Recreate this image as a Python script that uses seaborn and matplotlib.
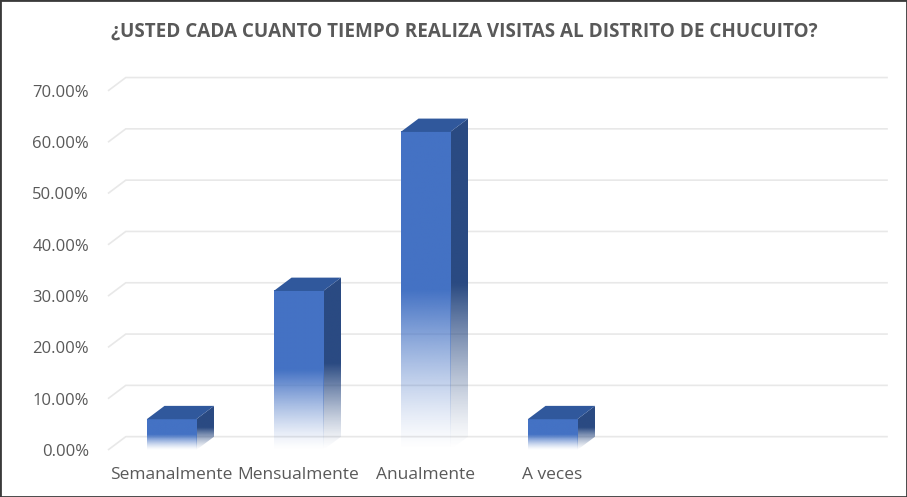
import numpy as np
import pandas as pd
import matplotlib.pyplot as plt
import seaborn as sns
from matplotlib.patches import Polygon, Rectangle
from matplotlib.colors import to_rgb

# --- datos ---
categorias = ["Semanalmente", "Mensualmente", "Anualmente", "A veces"]
porcentajes = [6.0, 31.0, 62.0, 6.0]
ticks_y = [0, 10, 20, 30, 40, 50, 60, 70]
titulo = "¿USTED CADA CUANTO TIEMPO REALIZA VISITAS AL DISTRITO DE CHUCUITO?"

df = pd.DataFrame({"frecuencia": categorias, "porcentaje": porcentajes})

sns.set_style("white")
plt.rcParams['font.family'] = ['Open Sans', 'DejaVu Sans']

GRIS = "#595959"
AZUL = "#4472C4"
AZUL_TOP = "#30589C"
AZUL_LADO = "#2A4A82"
DX, DY = 0.14, 2.6  # profundidad del efecto 3D

fig = plt.figure(figsize=(9.07, 4.97), dpi=100)
ax = fig.add_axes([100 / 907, 1 - 460 / 497, 790 / 907, 390 / 497])

sns.barplot(data=df, x="frecuencia", y="porcentaje", width=0.39,
            color=AZUL, ax=ax, zorder=3)

# lineas de la pared del fondo (con el pliegue del piso)
for v in ticks_y:
    ax.plot([-0.5, -0.5 + DX, 5.5 + DX], [v, v + DY, v + DY],
            color="#e8e8e8", lw=1.2, zorder=1, solid_capstyle="butt")


def degradado(rgb, n=256, corte=0.5, gamma=1.3):
    frac = np.linspace(0, 1, n)
    alpha = np.clip(frac / corte, 0, 1) ** gamma
    img = np.zeros((n, 1, 4))
    img[..., :3] = rgb
    img[..., 3] = alpha[:, None]
    return img


# caras frontal, lateral y superior de cada barra
for p in list(ax.patches):
    x0, w, h = p.get_x(), p.get_width(), p.get_height()
    p.set_facecolor("none")
    p.set_edgecolor("none")

    ax.imshow(degradado(to_rgb(AZUL)), extent=[x0, x0 + w, 0, h],
              origin="lower", aspect="auto", zorder=4, interpolation="bilinear")

    lado = Polygon([(x0 + w, 0), (x0 + w, h), (x0 + w + DX, h + DY), (x0 + w + DX, DY)],
                   closed=True, facecolor="none", edgecolor="none")
    ax.add_patch(lado)
    im = ax.imshow(degradado(to_rgb(AZUL_LADO)), extent=[x0 + w, x0 + w + DX, 0, h + DY],
                   origin="lower", aspect="auto", zorder=3, interpolation="bilinear")
    im.set_clip_path(lado)

    ax.add_patch(Polygon([(x0, h), (x0 + w, h), (x0 + w + DX, h + DY), (x0 + DX, h + DY)],
                         closed=True, facecolor=AZUL_TOP, edgecolor="none", zorder=4))

ax.set_xlim(-0.563, 5.657)
ax.set_ylim(-1.95, 74.07)
ax.set_yticks(ticks_y)
ax.set_yticklabels([f"{v:.2f}%" for v in ticks_y])
ax.set_xlabel("")
ax.set_ylabel("")
sns.despine(ax=ax, left=True, bottom=True)
ax.tick_params(axis="both", length=0, labelsize=12, colors=GRIS)
ax.tick_params(axis="x", labelsize=12.5, pad=5)
ax.tick_params(axis="y", pad=8)

fig.text(464 / 907, 1 - 32 / 497, titulo, ha="center", va="center",
         fontsize=13.6, weight="bold", color=GRIS)

fig.patches.append(Rectangle((0, 0), 1, 1, transform=fig.transFigure, fill=False,
                             edgecolor="#3a3a3a", lw=2))

fig.savefig("out.png", dpi=100)
